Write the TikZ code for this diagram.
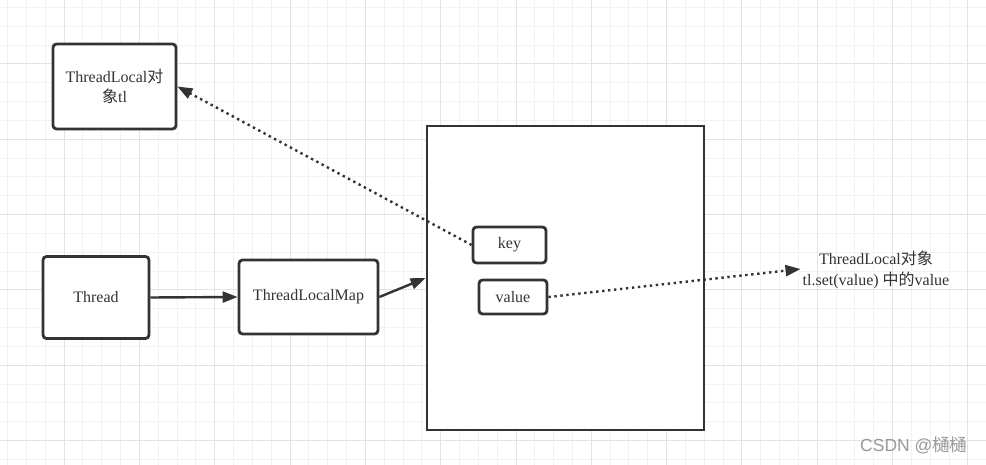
\documentclass[tikz,border=0pt]{standalone}
\usepackage{fontspec}
\setmainfont{Liberation Serif}
\newfontfamily\cjk{Noto Sans CJK SC}
\newfontfamily\wmfont{Liberation Sans}
\usetikzlibrary{arrows.meta}
\definecolor{boxline}{HTML}{333333}
\definecolor{gridminor}{HTML}{F2F2F2}
\definecolor{gridmajor}{HTML}{E3E3E3}
\definecolor{txt}{HTML}{333333}
\tikzset{
  box/.style={draw=boxline, line width=2.8pt, rounded corners=3.5pt, fill=white,
    inner sep=0pt, text=txt, font=\fontsize{16}{20}\selectfont, align=center},
  solidarrow/.style={draw=boxline, line width=2.4pt, -{Triangle[length=15pt,width=11pt]}},
  dotarrow/.style={draw=boxline, line width=2.4pt, dash pattern=on 2.4pt off 3.6pt,
    -{Triangle[length=15pt,width=11pt]}},
}
\begin{document}
\begin{tikzpicture}[x=1pt,y=-1pt]
\useasboundingbox (0,0) rectangle (986,465);
\fill[white] (0,0) rectangle (986,465);
% grid
\foreach \k in {0,...,52} {
  \draw[gridminor, line width=1pt] ({7.6+\k*18.83},0) -- ({7.6+\k*18.83},465);
}
\foreach \k in {0,...,24} {
  \draw[gridminor, line width=1pt] (0,{7.5+\k*18.83}) -- (986,{7.5+\k*18.83});
}
\foreach \k in {0,...,12} {
  \draw[gridmajor, line width=1pt] ({64.1+\k*75.32},0) -- ({64.1+\k*75.32},465);
}
\foreach \k in {0,...,5} {
  \draw[gridmajor, line width=1pt] (0,{64+\k*75.32}) -- (986,{64+\k*75.32});
}
% nodes
\node[box, minimum width=123pt, minimum height=85pt] (tl) at (114.5,86.5)
  {ThreadLocal{\cjk 对}\\{\cjk 象}tl};
\node[box, minimum width=106pt, minimum height=82pt] (thread) at (96,297.5) {Thread};
\node[box, minimum width=139pt, minimum height=74pt] (tlm) at (308.5,297) {ThreadLocalMap};
\node[box, rounded corners=0pt, minimum width=277pt, minimum height=304pt] (big) at (565.5,278) {};
\node[box, minimum width=73pt, minimum height=36pt] (key) at (509.5,245) {key};
\node[box, minimum width=68pt, minimum height=34pt] (value) at (513,297) {value};
\node[text=txt, font=\fontsize{16}{21}\selectfont, align=center, inner sep=0pt] (lbl) at (876,270)
  {ThreadLocal{\cjk 对象}\\tl.set(value) {\cjk 中的}value};
\node[text=black!40, font=\fontsize{17.5}{20}\selectfont, inner sep=0pt, anchor=west] (wm) at (860,445)
  {\wmfont CSDN @{\cjk 樋樋}};
% connectors
\draw[solidarrow] (thread.east) -- (tlm.west);
\draw[solidarrow] (tlm.east) -- (big.west);
\draw[dotarrow] (key.west) -- (tl.east);
\draw[dotarrow] (value.east) -- ([xshift=-2pt,yshift=1pt]lbl.west);
\end{tikzpicture}
\end{document}
